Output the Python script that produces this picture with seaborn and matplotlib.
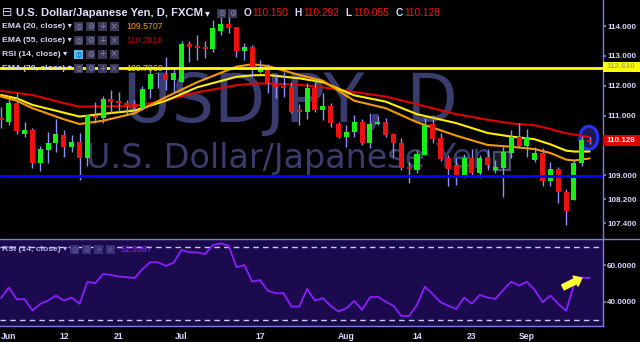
import numpy as np
import pandas as pd
import matplotlib
matplotlib.use('Agg')
import matplotlib.pyplot as plt
import seaborn as sns
from matplotlib.patches import Rectangle, Ellipse
from matplotlib.lines import Line2D

# ---------------- data ----------------
opens = [110.92, 110.80, 111.43, 110.39, 110.52, 109.43, 109.85, 110.08, 110.35, 109.96,
         110.13, 109.59, 111.00, 110.93, 111.55, 111.49, 111.41, 111.38, 111.25, 111.89,
         112.42, 112.38, 112.19, 112.14, 113.40, 113.31, 113.30, 113.22, 113.84, 114.06,
         113.98, 113.17, 113.31, 112.47, 112.64, 112.08, 111.99, 111.95, 111.19, 111.13,
         111.94, 111.19, 111.32, 110.72, 110.30, 110.46, 110.80, 110.10, 110.72, 110.78,
         110.39, 110.10, 109.25, 109.18, 109.69, 110.72, 110.24, 109.57, 109.35, 108.98,
         109.60, 109.07, 109.61, 109.18, 109.24, 109.76, 110.28, 109.99, 109.52, 109.74,
         108.83, 109.21, 108.46, 108.18, 109.41, 110.150]
highs = [111.29, 111.56, 111.76, 110.80, 110.58, 109.99, 110.47, 110.88, 110.52, 110.35,
         110.43, 111.02, 111.47, 111.66, 111.86, 111.80, 111.52, 111.52, 112.00, 112.53,
         112.45, 112.97, 112.64, 113.50, 113.50, 113.70, 113.50, 114.20, 114.31, 114.37,
         113.98, 113.43, 113.35, 112.86, 112.73, 112.36, 112.47, 112.14, 111.39, 112.10,
         112.25, 111.75, 111.41, 110.80, 110.69, 111.02, 110.88, 111.10, 110.99, 110.91,
         110.41, 110.24, 109.46, 109.85, 110.91, 111.02, 110.43, 109.69, 109.57, 109.72,
         109.88, 109.69, 109.88, 109.52, 110.02, 110.52, 110.75, 110.56, 109.96, 109.91,
         109.46, 109.29, 108.54, 109.52, 110.32, 110.292]
lows = [110.59, 110.69, 110.39, 110.30, 109.26, 109.15, 109.43, 109.80, 109.63, 109.80,
        108.85, 109.32, 110.75, 110.77, 111.09, 111.13, 111.02, 111.19, 111.19, 111.58,
        111.92, 111.86, 111.78, 112.14, 112.79, 112.86, 112.92, 113.14, 113.70, 113.77,
        112.97, 112.86, 112.30, 112.42, 111.75, 111.58, 111.64, 111.08, 110.69, 110.88,
        111.13, 110.86, 110.63, 110.24, 109.96, 110.30, 110.02, 109.91, 110.69, 110.30,
        109.63, 109.18, 108.76, 109.07, 109.69, 110.08, 109.49, 108.65, 108.68, 108.91,
        108.98, 108.91, 109.18, 109.07, 108.29, 109.58, 109.96, 109.63, 109.46, 108.65,
        108.65, 108.07, 107.34, 108.18, 109.32, 110.055]
closes = [110.84, 111.43, 110.49, 110.52, 109.43, 109.88, 110.08, 110.39, 109.96, 110.13,
          109.59, 111.02, 110.91, 111.55, 111.47, 111.41, 111.33, 111.30, 111.89, 112.38,
          112.38, 112.19, 112.42, 113.40, 113.31, 113.27, 113.22, 113.92, 114.06, 113.94,
          113.17, 113.31, 112.55, 112.64, 112.08, 111.97, 111.92, 111.13, 111.13, 111.94,
          111.19, 111.32, 110.75, 110.30, 110.46, 110.80, 110.10, 110.72, 110.78, 110.35,
          110.10, 109.24, 109.21, 109.72, 110.69, 110.21, 109.54, 109.22, 108.98, 109.60,
          109.07, 109.60, 109.35, 109.27, 109.80, 110.28, 109.99, 110.28, 109.74, 108.83,
          109.21, 108.46, 107.82, 109.43, 110.19, 110.128]

ema_idx = [0, 2, 4, 8, 10, 13, 17, 21, 25, 30, 32, 34, 38, 41, 45, 49, 53, 58, 62, 65, 68, 70, 72, 73, 75]
ema55 = [111.83, 111.76, 111.69, 111.42, 111.30, 111.31, 111.32, 111.52, 111.78, 112.02, 112.07, 112.08, 112.03,
         111.95, 111.79, 111.64, 111.38, 111.05, 110.86, 110.74, 110.68, 110.55, 110.41, 110.37, 110.28]
ema30 = [111.69, 111.58, 111.36, 111.10, 110.97, 111.06, 111.17, 111.50, 111.95, 112.30, 112.35, 112.36, 112.25,
         112.12, 111.68, 111.47, 111.05, 110.75, 110.42, 110.30, 110.21, 110.04, 109.83, 109.80, 109.80]
ema20 = [111.64, 111.50, 111.25, 110.88, 110.72, 110.83, 111.08, 111.62, 112.12, 112.64, 112.72, 112.66, 112.36,
         112.17, 111.50, 111.25, 110.78, 110.33, 110.02, 109.96, 109.88, 109.75, 109.53, 109.50, 109.57]

rsi = [41.9, 47.7, 41.3, 41.3, 35.1, 38.8, 40.6, 43.3, 40.6, 42.2,
       38.8, 50.9, 50.0, 55.1, 54.6, 53.7, 53.4, 52.8, 57.7, 61.5,
       61.5, 59.5, 61.3, 68.2, 66.9, 66.9, 66.0, 70.9, 71.8, 70.5,
       58.8, 60.0, 50.9, 51.8, 45.9, 44.6, 44.6, 37.3, 37.3, 46.9,
       40.6, 41.9, 37.7, 34.6, 36.4, 40.4, 35.5, 42.4, 42.7, 40.0,
       37.7, 32.2, 32.2, 38.2, 48.2, 44.1, 39.7, 37.7, 36.0, 42.2,
       38.8, 43.7, 42.2, 41.5, 46.4, 50.9, 48.7, 50.9, 46.4, 39.7,
       43.3, 38.8, 35.0, 49.1, 53.1, 52.9]

xtick_pos = [1, 8, 15, 23, 33, 44, 53, 60, 67]
xtick_labels = ['Jun', '12', '21', 'Jul', '17', 'Aug', '14', '23', 'Sep']
price_ticks = [114.0, 113.0, 112.0, 111.0, 109.0, 108.2, 107.4]
rsi_ticks = [60, 40]
resistance = 112.61
support = 108.98
last_price = 110.128

# ---------------- style ----------------
sns.set_theme(style='dark')
plt.rcParams['font.family'] = ['Liberation Sans', 'DejaVu Sans']
plt.rcParams['axes.grid'] = False

LAV = '#7c7ce6'
TXT = '#d8d8ff'
W, H = 640, 342


def fx(x):
    return x / W


def fy(y):
    return 1 - y / H


fig = plt.figure(figsize=(6.4, 3.42), dpi=100, facecolor='black')
ax = fig.add_axes([0, fy(237), fx(603), 237 / H])
ax2 = fig.add_axes([0, fy(326), fx(603), (326 - 240) / H])

df = pd.DataFrame({'o': opens, 'h': highs, 'l': lows, 'c': closes})
df['i'] = np.arange(len(df))
up = df['c'] >= df['o']

# ---------------- main pane ----------------
ax.set_facecolor('black')
ax.set_xlim(-0.13, 76.7)
ax.set_ylim(106.94, 114.87)

# watermark
ax.text(fx(123), fy(121.7), 'USDJPY, D', transform=fig.transFigure, fontsize=48,
        family='DejaVu Sans', color='#3a3c6e', ha='left', va='baseline', zorder=0.2)
ax.text(fx(86), fy(168), 'U.S. Dollar/Japanese Yen', transform=fig.transFigure, fontsize=24,
        family='DejaVu Sans', color='#3a3c6e', ha='left', va='baseline', zorder=0.2)

# EMAs
sns.lineplot(x=ema_idx, y=ema55, ax=ax, color='#e00000', linewidth=1.5, zorder=2)
sns.lineplot(x=ema_idx, y=ema30, ax=ax, color='#ffee00', linewidth=1.5, zorder=2)
sns.lineplot(x=ema_idx, y=ema20, ax=ax, color='#f59a00', linewidth=1.5, zorder=2)

# highlight box & circle
ax.add_patch(Rectangle((62.8, 109.18), 2.0, 0.61, facecolor='#1c1c28', edgecolor='#50506a', lw=1.4, zorder=1.5))
ax.add_patch(Ellipse((74.9, 110.26), 2.3, 0.77, facecolor='#1a1a50', edgecolor='#2233ff', lw=2.2, zorder=1.6))

# candles
ax.vlines(df['i'], df['l'], df['h'], color='#9090ff', linewidth=1, zorder=3)
body_bot = np.minimum(df['o'], df['c'])
body_h = np.maximum(np.abs(df['c'] - df['o']), 0.06)
ax.bar(df['i'], body_h, bottom=body_bot, width=0.64,
       color=np.where(up, '#19ee19', '#ee1111'), linewidth=0, zorder=3.5)

# horizontal levels
ax.axhline(resistance, color='#ffff00', linewidth=2, zorder=4)
ax.axhline(support, color='#0000ff', linewidth=2.2, zorder=4)

ax.yaxis.tick_right()
ax.set_yticks(price_ticks)
ax.set_yticklabels(['%.3f' % v for v in price_ticks])
ax.tick_params(axis='y', direction='out', length=2, color=LAV, labelcolor=TXT, labelsize=5.8, pad=1)
for t in ax.get_yticklabels():
    t.set_fontweight('bold')
ax.set_xticks([])
for s in ['left', 'top', 'bottom']:
    ax.spines[s].set_visible(False)
ax.spines['right'].set_color(LAV)
ax.spines['right'].set_linewidth(1)

# price boxes
fig.add_artist(Rectangle((fx(603), fy(72)), fx(37), 10 / H, facecolor='#ffff00', edgecolor='none', zorder=5))
fig.text(fx(606), fy(67), '%.3f' % resistance, color='#a8a860', fontsize=5.8, fontweight='bold',
         va='center', ha='left', zorder=6)
fig.add_artist(Rectangle((fx(603), fy(146)), fx(37), 11 / H, facecolor='#e00000', edgecolor='none', zorder=5))
fig.text(fx(606), fy(140.7), '%.3f' % last_price, color='white', fontsize=5.8, fontweight='bold',
         va='center', ha='left', zorder=6)

# ---------------- RSI pane ----------------
ax2.set_facecolor('#1c0a4e')
ax2.set_xlim(-0.13, 76.7)
ax2.set_ylim(26.7, 73.65)
ax2.axhline(70, color='#c8c8ff', linewidth=1, dashes=(4, 3))
ax2.axhline(30, color='#c8c8ff', linewidth=1, dashes=(4, 3))
sns.lineplot(x=np.arange(len(rsi)), y=rsi, ax=ax2, color='#8a1eff', linewidth=1.3, zorder=3)
ax2.annotate('', xy=(74.0, 52.9), xytext=(71.6, 47.8),
             arrowprops=dict(arrowstyle='simple,head_width=0.8,head_length=0.5,tail_width=0.4',
                             color='#ffff33', mutation_scale=10, shrinkA=0, shrinkB=0), zorder=4)
ax2.yaxis.tick_right()
ax2.set_yticks(rsi_ticks)
ax2.set_yticklabels(['%.4f' % v for v in rsi_ticks])
ax2.tick_params(axis='y', direction='out', length=2, color=LAV, labelcolor=TXT, labelsize=5.8, pad=1)
ax2.set_xticks(xtick_pos)
ax2.set_xticklabels(xtick_labels)
ax2.tick_params(axis='x', direction='out', length=3, color=LAV, labelcolor=TXT, labelsize=6.2, pad=1)
for t in ax2.get_yticklabels() + ax2.get_xticklabels():
    t.set_fontweight('bold')
for s in ['left', 'top']:
    ax2.spines[s].set_visible(False)
for s in ['right', 'bottom']:
    ax2.spines[s].set_color(LAV)
    ax2.spines[s].set_linewidth(1)

# separators
fig.add_artist(Line2D([0, 1], [fy(238.5), fy(238.5)], color=LAV, linewidth=1))
fig.add_artist(Line2D([fx(603), fx(603)], [fy(237), fy(240)], color=LAV, linewidth=1))

# ---------------- header & legends ----------------
def icon(x, y, glyph, face='#3a3a58', gc='#8a8aa8', w=9):
    fig.add_artist(Rectangle((fx(x), fy(y + 4.5)), fx(w), 9 / H, facecolor=face, edgecolor='none', zorder=7))
    fig.text(fx(x + w / 2), fy(y), glyph, ha='center', va='center', fontsize=5.5, color=gc,
             family=['DejaVu Sans'], zorder=8)


fig.text(fx(2), fy(13), '\u229f', fontsize=9, color='#c8c8f0', va='center', ha='left', family=['DejaVu Sans'])
fig.text(fx(16), fy(13), 'U.S. Dollar/Japanese Yen, D, FXCM', fontsize=8.1, fontweight='bold',
         color='#e0e0ff', va='center', ha='left')
fig.text(fx(205), fy(13), '\u25be', fontsize=7, color='#e0e0ff', va='center', ha='left', family=['DejaVu Sans'])
icon(217, 13, '\u25ce')
icon(228, 13, '\u2699')
for k, (lab, val) in enumerate(zip(['O', 'H', 'L', 'C'], [opens[-1], highs[-1], lows[-1], closes[-1]])):
    x0 = 244 + 50.5 * k
    fig.text(fx(x0), fy(13), lab, fontsize=7.3, fontweight='bold', color='#d8d8ff', va='center', ha='left')
    fig.text(fx(x0 + 8.5), fy(13), '%.3f' % val, fontsize=7.3, color='#ff1010', va='center', ha='left')

legend_rows = [('EMA (20, close)', 26.7, '109.5707', '#f5a000'),
               ('EMA (55, close)', 40.7, '110.2816', '#c80000'),
               ('RSI (14, close)', 54.0, None, None),
               ('EMA (30, close)', 68.7, '109.7960', '#f0f000')]
for lab, y, val, col in legend_rows:
    fig.text(fx(2), fy(y), lab + ' \u25be', fontsize=6.1, fontweight='bold', color='#d8d8f8',
             va='center', ha='left', zorder=9)
    first_face = '#4fc3f7' if lab.startswith('RSI') else '#3a3a58'
    first_gc = '#1a4a8a' if lab.startswith('RSI') else '#8a8aa8'
    icon(74, y, '\u25ce', face=first_face, gc=first_gc)
    icon(86, y, '\u2699')
    icon(98, y, '+')
    icon(110, y, '\u00d7')
    if val:
        fig.text(fx(126), fy(y), val, fontsize=6.3, color=col, va='center', ha='left', zorder=9)

# RSI pane legend
fig.text(fx(2), fy(249.3), 'RSI (14, close) \u25be', fontsize=6.1, fontweight='bold', color='#b8b8e8',
         va='center', ha='left', zorder=9)
for xx, g in zip([70, 82, 94, 106], ['\u25ce', '\u2699', '+', '\u00d7']):
    icon(xx, 249.3, g, face='#3a2e78', gc='#6a60a8')
fig.text(fx(121), fy(249.3), '%.4f' % 52.9367, fontsize=6.3, color='#8c2bff', va='center', ha='left', zorder=9)

fig.savefig('out.png', dpi=100, facecolor='black')
